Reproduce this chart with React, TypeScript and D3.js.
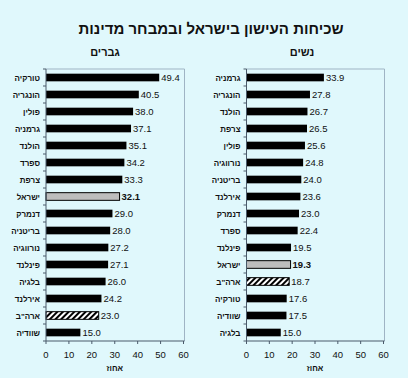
import React from "react";
import * as d3 from "d3";

const menCountries = ["טורקיה", "הונגריה", "פולין", "גרמניה", "הולנד", "ספרד", "צרפת", "ישראל", "דנמרק", "בריטניה", "נורווגיה", "פינלנד", "בלגיה", "אירלנד", "ארה\"ב", "שוודיה"];
const menValues = [49.4, 40.5, 38.0, 37.1, 35.1, 34.2, 33.3, 32.1, 29.0, 28.0, 27.2, 27.1, 26.0, 24.2, 23.0, 15.0];
const womenCountries = ["גרמניה", "הונגריה", "הולנד", "צרפת", "פולין", "נורווגיה", "בריטניה", "אירלנד", "דנמרק", "ספרד", "פינלנד", "ישראל", "ארה\"ב", "טורקיה", "שוודיה", "בלגיה"];
const womenValues = [33.9, 27.8, 26.7, 26.5, 25.6, 24.8, 24.0, 23.6, 23.0, 22.4, 19.5, 19.3, 18.7, 17.6, 17.5, 15.0];
const xTicks = [0, 10, 20, 30, 40, 50, 60];
const title = "שכיחות העישון בישראל ובמבחר מדינות";
const menTitle = "גברים";
const womenTitle = "נשים";
const axisTitle = "אחוז";

const W = 408, H = 378;
const TOP = 69, BOTTOM = 341;
const FONT = "'Liberation Sans', Arial, sans-serif";

function Panel({ countries, values, x0, x1, heading, headingX }: any) {
  const x = d3.scaleLinear().domain([0, 60]).range([x0, x1]);
  const y = d3.scaleBand<string>().domain(countries).range([TOP, BOTTOM]).paddingInner(0.55).paddingOuter(0.275);
  const band = (BOTTOM - TOP) / countries.length;
  return (
    <g>
      <text x={headingX} y={56} textAnchor="middle" fontSize={11} fontWeight="bold" fill="#111" fontFamily={FONT}>{heading}</text>
      <line x1={x0} x2={x1 + 1} y1={TOP} y2={TOP} stroke="#9fb4c4" strokeWidth={1} />
      <line x1={x1 + 1} x2={x1 + 1} y1={TOP} y2={BOTTOM} stroke="#9fb4c4" strokeWidth={1} />
      {countries.map((c: string, i: number) => {
        const v = values[i];
        const isIsrael = c === "ישראל";
        const isUSA = c === "ארה\"ב";
        const fill = isIsrael ? "#bdbdbd" : isUSA ? "url(#hatch)" : "#000";
        const yy = y(c) as number;
        return (
          <g key={c}>
            <rect x={x(0)} y={yy} width={x(v) - x(0)} height={y.bandwidth()} fill={fill} stroke="#000" strokeWidth={isIsrael || isUSA ? 1 : 0} />
            <text x={x(v) + 2} y={yy + y.bandwidth() / 2 + 3.3} fontSize={9.5} fill="#111" fontWeight={isIsrael ? "bold" : "normal"} fontFamily={FONT}>{v.toFixed(1)}</text>
            <text x={x0 - 6} y={yy + y.bandwidth() / 2 + 3} textAnchor="end" fontSize={8} fontWeight="bold" fill="#111" fontFamily={FONT}>{c}</text>
          </g>
        );
      })}
      <line x1={x0} x2={x0} y1={TOP} y2={BOTTOM} stroke="#4a5a6a" strokeWidth={1} />
      {d3.range(countries.length + 1).map((i) => (
        <line key={"yt" + i} x1={x0 - 3} x2={x0} y1={TOP + i * band} y2={TOP + i * band} stroke="#4a5a6a" strokeWidth={1} />
      ))}
      <line x1={x0} x2={x1 + 1} y1={BOTTOM} y2={BOTTOM} stroke="#4a5a6a" strokeWidth={1} />
      {xTicks.map((t) => (
        <g key={"xt" + t}>
          <line x1={x(t)} x2={x(t)} y1={BOTTOM} y2={BOTTOM + 3} stroke="#4a5a6a" strokeWidth={1} />
          <text x={x(t)} y={BOTTOM + 17} textAnchor="middle" fontSize={9.5} fill="#111" fontFamily={FONT}>{t}</text>
        </g>
      ))}
      <text x={(x0 + x1) / 2} y={BOTTOM + 30} textAnchor="middle" fontSize={8} fontWeight="bold" fill="#111" fontFamily={FONT}>{axisTitle}</text>
    </g>
  );
}

export default function App() {
  return (
    <svg width={W} height={H} style={{ position: "absolute", left: 0, top: 0 }}>
      <defs>
        <pattern id="hatch" patternUnits="userSpaceOnUse" width="4" height="4" patternTransform="rotate(45)">
          <rect width="4" height="4" fill="#fff" />
          <rect width="2" height="4" fill="#000" />
        </pattern>
      </defs>
      <rect x={0} y={0} width={W} height={H} fill="#e0f8fc" />
      <text x={211} y={34} textAnchor="middle" fontSize={15} fontWeight="bold" fill="#111" fontFamily={FONT}>{title}</text>
      <Panel countries={menCountries} values={menValues} x0={46} x1={183.5} heading={menTitle} headingX={105} />
      <Panel countries={womenCountries} values={womenValues} x0={246.5} x1={383.5} heading={womenTitle} headingX={302} />
    </svg>
  );
}
